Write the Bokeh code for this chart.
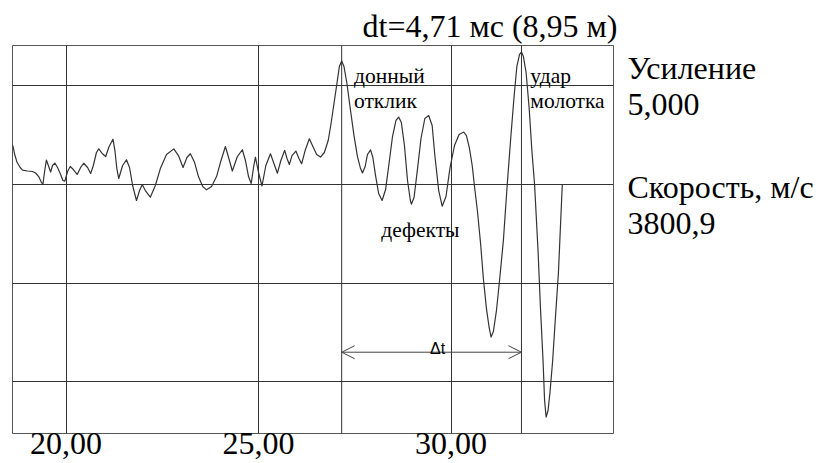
from bokeh.plotting import figure
from bokeh.layouts import row
from bokeh.models import Range1d, FixedTicker, Span, Label, Arrow, OpenHead
from bokeh.embed import file_html
from bokeh.resources import INLINE

# time, ms
t = [18.62, 18.66, 18.73, 18.81, 18.87, 19.00, 19.13, 19.21, 19.29, 19.35,
     19.40, 19.44, 19.49, 19.55, 19.60, 19.65, 19.71, 19.78, 19.86, 19.92,
     19.97, 20.04, 20.11, 20.19, 20.29, 20.38, 20.46, 20.56, 20.64, 20.71,
     20.79, 20.85, 20.94, 21.03, 21.12, 21.22, 21.27, 21.32, 21.37, 21.47,
     21.57, 21.65, 21.73, 21.83, 21.91, 21.98, 22.06, 22.19, 22.32, 22.45,
     22.61, 22.80, 22.92, 23.04, 23.14, 23.23, 23.34, 23.44, 23.55, 23.65,
     23.78, 23.91, 24.01, 24.14, 24.23, 24.32, 24.45, 24.58, 24.66, 24.74,
     24.81, 24.87, 24.92, 25.00, 25.09, 25.19, 25.31, 25.40, 25.49, 25.58,
     25.68, 25.74, 25.80, 25.87, 25.97, 26.05, 26.12, 26.21, 26.32, 26.40,
     26.51, 26.61, 26.71, 26.81, 26.88, 26.96, 27.04, 27.10, 27.16, 27.22,
     27.30, 27.39, 27.48, 27.57, 27.65, 27.70, 27.77, 27.83, 27.91, 27.97,
     28.04, 28.12, 28.21, 28.30, 28.39, 28.48, 28.57, 28.64, 28.71, 28.79,
     28.87, 28.94, 28.97, 29.04, 29.13, 29.22, 29.32, 29.42, 29.51, 29.58,
     29.68, 29.77, 29.87, 29.97, 30.09, 30.21, 30.33, 30.40, 30.48, 30.55,
     30.61, 30.69, 30.77, 30.84, 30.92, 30.99, 31.04, 31.10, 31.18, 31.26,
     31.36, 31.46, 31.55, 31.64, 31.71, 31.78, 31.83, 31.88, 31.95, 32.03,
     32.10, 32.17, 32.26, 32.32, 32.39, 32.43, 32.47, 32.52, 32.57, 32.64,
     32.71, 32.79, 32.89]

# signal amplitude (grid division = 100)
amp = [39.6, 31.5, 22.3, 17.3, 14.7, 13.7, 13.2, 11.7, 8.1, 3.0,
       0.0, 12.2, 24.9, 18.3, 12.7, 19.3, 21.8, 17.3, 10.2, 4.1,
       3.4, 13.2, 18.3, 15.2, 10.2, 17.3, 21.6, 17.3, 11.2, 19.3,
       32.5, 36.2, 31.5, 28.4, 38.6, 46.0, 34.5, 16.2, 6.1, 19.3,
       25.1, 17.3, -1.0, -16.2, -6.1, 0.0, -6.1, -12.9, -1.0, 16.2,
       30.5, 36.2, 29.4, 17.3, 27.4, 31.2, 22.3, 8.1, -2.0, -5.4,
       -2.0, 8.1, 22.3, 38.6, 26.4, 13.7, 28.4, 35.3, 24.4, 8.1,
       1.0, 17.3, 27.7, 12.2, -1.5, 19.3, 31.2, 21.3, 11.5, 24.4,
       34.7, 26.4, 20.3, 29.4, 34.0, 26.4, 21.0, 34.5, 46.4, 39.6,
       30.5, 27.9, 32.5, 44.7, 60.9, 82.2, 103.5, 119.8, 125.4, 119.8,
       101.5, 75.1, 49.7, 28.4, 16.2, 11.7, 18.3, 30.5, 35.2, 27.4,
       9.1, -9.1, -16.2, -5.1, 21.3, 48.7, 65.0, 68.5, 62.9, 39.6,
       4.1, -15.2, -20.0, -13.2, 16.2, 46.7, 67.0, 70.0, 59.9, 29.4,
       -6.1, -22.0, -12.2, 16.2, 39.6, 50.8, 53.3, 49.7, 36.5, 19.3,
       -2.0, -28.4, -60.9, -95.4, -125.9, -145.1, -154.8, -149.2, -127.9, -97.4,
       -56.8, 0.0, 46.7, 90.3, 119.8, 132.0, 134.5, 129.9, 113.7, 77.1,
       34.5, 0.0, -67.0, -122.8, -178.6, -219.2, -236.0, -229.4, -211.1, -178.6,
       -136.0, -89.3, 0.0]

x_ticks = [20, 25, 30]
x_tick_labels = ["20,00", "25,00", "30,00"]
y_grid = [100, 0, -100, -200]
t_reflect = 27.16   # донный отклик
t_impact = 31.83    # удар молотка

info_lines = ["Усиление", "5,000", "Скорость, м/с", "3800,9"]

SERIF = "Liberation Serif"
BIG = "32px"
SMALL = "21.5px"

p = figure(width=623, height=463, output_backend="svg", toolbar_location=None,
           x_range=Range1d(18.61, 34.22), y_range=Range1d(-252.7, 141.1),
           y_axis_location=None, min_border_left=12, min_border_top=45,
           min_border_right=10, min_border_bottom=30)
p.background_fill_color = "white"
p.border_fill_color = "white"
p.outline_line_color = "#555555"
p.outline_line_width = 1

p.title.text = "dt=4,71 мс (8,95 м)"
p.title.align = "left"
p.title.offset = 350
p.title.text_font = SERIF
p.title.text_font_size = BIG
p.title.text_font_style = "normal"
p.title.text_color = "black"
p.title.standoff = 4

p.xaxis.ticker = FixedTicker(ticks=x_ticks)
p.xaxis.major_label_overrides = {k: v for k, v in zip(x_ticks, x_tick_labels)}
p.xaxis.axis_line_color = None
p.xaxis.major_tick_line_color = None
p.xaxis.minor_tick_line_color = None
p.xaxis.major_label_text_font = SERIF
p.xaxis.major_label_text_font_size = BIG
p.xaxis.major_label_text_color = "black"
p.xaxis.major_label_standoff = -7

p.xgrid.ticker = FixedTicker(ticks=x_ticks)
p.xgrid.grid_line_color = "#333333"
p.xgrid.grid_line_width = 1
p.ygrid.ticker = FixedTicker(ticks=y_grid)
p.ygrid.grid_line_color = "#333333"
p.ygrid.grid_line_width = 1

for tv in (t_reflect, t_impact):
    p.add_layout(Span(location=tv, dimension="height", line_color="#333333", line_width=1))

p.line(t, amp, line_color="#333333", line_width=1.2, line_join="round")

p.add_layout(Arrow(start=OpenHead(size=13, line_color="#444444", line_width=1),
                   end=OpenHead(size=13, line_color="#444444", line_width=1),
                   x_start=t_reflect, y_start=-170.2, x_end=t_impact, y_end=-170.2,
                   line_color="#444444", line_width=1))

def lab(fig, x, y, text, size, font=SERIF, align="left"):
    fig.add_layout(Label(x=x, y=y, text=text, text_font=font, text_font_size=size,
                         text_color="black", text_baseline="alphabetic", text_align=align))

lab(p, 27.48, 109.9, "донный", SMALL)
lab(p, 27.48, 84.5, "отклик", SMALL)
lab(p, 32.06, 109.9, "удар", SMALL)
lab(p, 32.06, 84.5, "молотка", SMALL)
lab(p, 28.19, -45.7, "дефекты", SMALL)
lab(p, 29.65, -166.8, "Δt", "16px", font="Liberation Sans", align="center")

# side panel with settings, sharing the signal's vertical scale
side = figure(width=195, height=463, output_backend="svg", toolbar_location=None,
              title=None, x_range=Range1d(0, 195), y_range=p.y_range,
              x_axis_location=None, y_axis_location=None,
              min_border_left=0, min_border_right=0,
              min_border_top=45, min_border_bottom=30)
side.outline_line_color = None
side.grid.visible = False
side.background_fill_color = "white"
side.border_fill_color = "white"
for txt, yv in zip(info_lines, [118.5, 81.2, -2.7, -39.3]):
    lab(side, 4, yv, txt, BIG)

layout = row(p, side, spacing=0)
open("out.html", "w").write(file_html(layout, INLINE))
